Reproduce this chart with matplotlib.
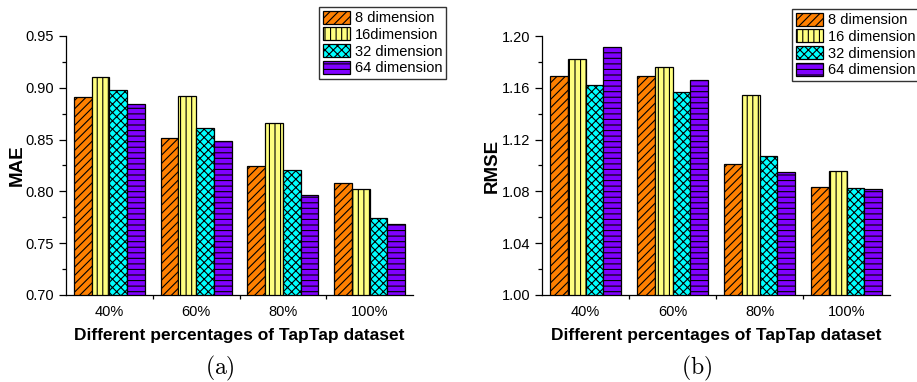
import matplotlib
matplotlib.use("Agg")
import matplotlib.pyplot as plt
import numpy as np
from matplotlib.ticker import MultipleLocator, FixedLocator

plt.rcParams['font.family'] = ['Liberation Sans', 'DejaVu Sans']
plt.rcParams['mathtext.fontset'] = 'cm'
plt.rcParams['hatch.linewidth'] = 0.8

categories = ['40%', '60%', '80%', '100%']
mae_8 = [0.8915, 0.8517, 0.8244, 0.8080]
mae_16 = [0.9102, 0.8922, 0.8661, 0.8025]
mae_32 = [0.8980, 0.8610, 0.8205, 0.7742]
mae_64 = [0.8841, 0.8488, 0.7964, 0.7688]

rmse_8 = [1.1692, 1.1690, 1.1010, 1.0833]
rmse_16 = [1.1820, 1.1758, 1.1542, 1.0959]
rmse_32 = [1.1620, 1.1566, 1.1072, 1.0825]
rmse_64 = [1.1915, 1.1658, 1.0949, 1.0815]

labels_a = ['8 dimension', '16dimension', '32 dimension', '64 dimension']
labels_b = ['8 dimension', '16 dimension', '32 dimension', '64 dimension']
colors = ['#FF8000', '#FFFF80', '#00FFFF', '#8000FF']
hatches = ['////', '|||', 'xxxx', '---']

fig = plt.figure(figsize=(9.17, 3.82), dpi=100)
W, H = 917, 382
ax1 = fig.add_axes([66 / W, 1 - 295 / H, (413 - 66) / W, (295 - 36) / H])
ax2 = fig.add_axes([542 / W, 1 - 295 / H, (890 - 542) / W, (295 - 36) / H])

def draw(ax, series, labels, ylim, ystep, yminor, ylabel, fmt, legend_bbox, ylabel_x):
    x = np.arange(len(categories))
    w = 0.204
    handles = []
    for i, vals in enumerate(series):
        b = ax.bar(x + (i - 1.5) * w, np.array(vals) - ylim[0], w, bottom=ylim[0],
                   color=colors[i], edgecolor='black', linewidth=0.9,
                   hatch=hatches[i], label=labels[i], zorder=3)
        handles.append(b)
    ax.set_xlim(-0.5, 3.5)
    ax.set_ylim(*ylim)
    ax.yaxis.set_major_locator(MultipleLocator(ystep))
    ax.yaxis.set_minor_locator(MultipleLocator(yminor))
    ax.yaxis.set_major_formatter(matplotlib.ticker.FormatStrFormatter(fmt))
    ax.set_xticks(x)
    ax.set_xticklabels(categories)
    ax.xaxis.set_minor_locator(FixedLocator([0.5, 1.5, 2.5]))
    for s in ['top', 'right']:
        ax.spines[s].set_visible(False)
    for s in ['left', 'bottom']:
        ax.spines[s].set_linewidth(0.9)
    ax.tick_params(axis='y', which='major', direction='out', length=5, width=0.9, labelsize=10.5)
    ax.tick_params(axis='y', which='minor', direction='out', length=3, width=0.9)
    ax.tick_params(axis='x', which='major', direction='in', length=4, width=0.9, labelsize=10.5, pad=7)
    ax.tick_params(axis='x', which='minor', direction='out', length=3, width=0.9)
    ax.set_ylabel(ylabel, fontsize=13.5, fontweight='bold', va='center')
    ax.yaxis.set_label_coords(ylabel_x, 0.5)
    ax.set_xlabel('Different percentages of TapTap dataset', fontsize=12.5, fontweight='bold', labelpad=7)
    leg = ax.legend(handles=handles, loc='upper left', bbox_to_anchor=legend_bbox,
                    bbox_transform=fig.transFigure, fontsize=10.5, frameon=True, fancybox=False,
                    edgecolor='black', handlelength=1.9, handleheight=1.0, handletextpad=0.3,
                    labelspacing=0.15, borderpad=0.25, borderaxespad=0)
    leg.get_frame().set_linewidth(1.0)

draw(ax1, [mae_8, mae_16, mae_32, mae_64], labels_a, (0.70, 0.95), 0.05, 0.025, 'MAE', '%.2f',
     (319 / W, 1 - 7 / H), -0.141)
draw(ax2, [rmse_8, rmse_16, rmse_32, rmse_64], labels_b, (1.00, 1.20), 0.04, 0.02, 'RMSE', '%.2f',
     (792 / W, 1 - 9 / H), -0.144)

fig.text(220 / W, 1 - 368 / H, r'$\mathrm{(a)}$', ha='center', va='center', fontsize=17)
fig.text(697 / W, 1 - 368 / H, r'$\mathrm{(b)}$', ha='center', va='center', fontsize=17)

fig.savefig('out.png', dpi=100)
